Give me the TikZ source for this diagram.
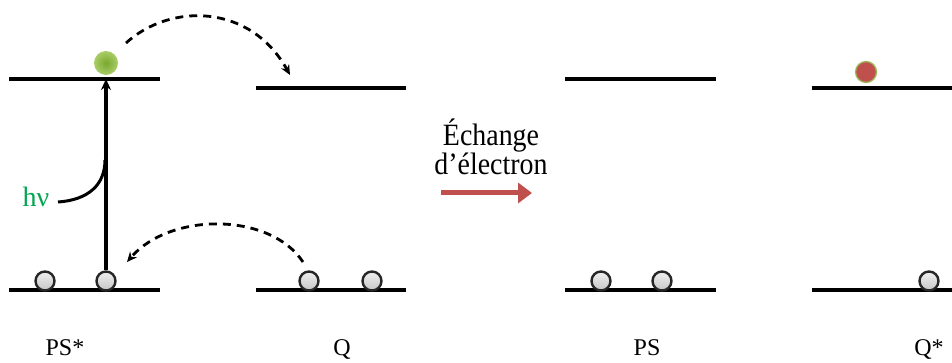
\documentclass[tikz,border=0pt]{standalone}
\usepackage{fontspec}
\usepackage{graphicx}
\setmainfont{Liberation Serif}
\usetikzlibrary{arrows.meta}
\definecolor{hvgreen}{RGB}{0,166,80}
\definecolor{ballin}{RGB}{120,168,45}
\definecolor{ballout}{RGB}{170,205,105}
\definecolor{ballred}{RGB}{192,80,77}
\definecolor{ringgreen}{RGB}{155,187,89}
\definecolor{arrred}{RGB}{192,80,77}
\tikzset{
  level/.style={line width=3.5pt},
  elec/.style={circle, draw=black!85, line width=2.4pt, minimum size=19pt, inner sep=0pt, top color=gray!12, bottom color=gray!45},
  hop/.style={line width=2.8pt, dash pattern=on 8pt off 6pt, -{Stealth[length=10pt,width=9pt]}},
  lab/.style={font=\fontsize{24}{24}\selectfont, anchor=base}
}
\begin{document}
\begin{tikzpicture}[x=1pt,y=-1pt]
\useasboundingbox (0,0) rectangle (952,363);
% levels
\draw[level] (9,79) coordinate (a1) -- (160,79) coordinate (a2);
\draw[level] (9,290) -- (160,290);
\draw[level] (256,88) coordinate (b1) -- (406,88);
\draw[level] (256,290) -- (406,290);
\draw[level] (565,79) -- (716,79);
\draw[level] (565,290) -- (716,290);
\draw[level] (812,88) -- (952,88);
\draw[level] (812,290) -- (952,290);
% electrons
\node[elec] (p1) at (45,281) {};
\node[elec] (p2) at (106,281) {};
\node[elec] (q1) at (309,281) {};
\node[elec] (q2) at (372,281) {};
\node[elec] (s1) at (601,281) {};
\node[elec] (s2) at (662,281) {};
\node[elec] (t1) at (929,281) {};
\node[circle, inner sep=0pt, minimum size=24pt, inner color=ballin, outer color=ballout] (g) at (106,63) {};
\node[circle, inner sep=0pt, minimum size=21pt, fill=ballred, draw=ringgreen, line width=1.3pt] (r) at (866,72) {};
% excitation
\coordinate (top) at (106,79);
\draw[line width=3.2pt, -{Stealth[length=11pt,width=10pt]}] (p2.north) -- (top);
\node[text=hvgreen, font=\fontsize{28}{28}\selectfont, anchor=base] (hv) at (36,207) {hν};
\coordinate (hvs) at (58,202);
\coordinate (hve) at (105,160);
\draw[line width=3pt] (hvs) .. controls (88,200) and (105,185) .. (hve);
% hops
\coordinate (up1) at (126,43);
\coordinate (up2) at (290,75);
\draw[hop] (up1) .. controls (170,3) and (250,3) .. (up2);
\coordinate (lo1) at (303,262);
\coordinate (lo2) at (127,262);
\draw[hop] (lo1) .. controls (270,212) and (170,212) .. (lo2);
% central text and arrow
\node[font=\fontsize{31}{28}\selectfont, align=center, anchor=base] (txt) at (491,175) {\scalebox{0.9}[1]{Échange}\\\scalebox{0.9}[1]{d’électron}};
\coordinate (ra) at (441,193);
\coordinate (rb) at (532,193);
\draw[arrred, line width=5pt, -{Triangle[length=14pt,width=20pt]}] (ra) -- (rb);
% labels
\node[lab] (l1) at (65,355) {PS*};
\node[lab] (l2) at (342,355) {Q};
\node[lab] (l3) at (647,355) {PS};
\node[lab] (l4) at (929,355) {Q*};
\end{tikzpicture}
\end{document}
